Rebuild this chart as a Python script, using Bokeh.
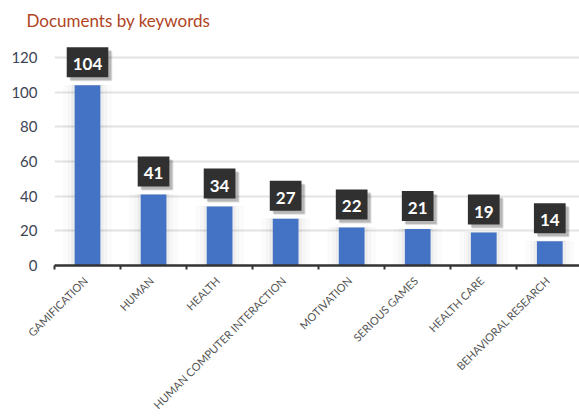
import math
from bokeh.plotting import figure
from bokeh.models import ColumnDataSource, Range1d, FixedTicker, LinearAxis
from bokeh.embed import file_html
from bokeh.resources import INLINE
from bokeh.core.properties import value

keywords = ["GAMIFICATION", "HUMAN", "HEALTH", "HUMAN COMPUTER INTERACTION",
            "MOTIVATION", "SERIOUS GAMES", "HEALTH CARE", "BEHAVIORAL RESEARCH"]
counts = [104, 41, 34, 27, 22, 21, 19, 14]
y_ticks = [0, 20, 40, 60, 80, 100, 120]
title_text = "Documents by keywords"

xs = [i + 0.5 for i in range(len(keywords))]
label_pos = [i + 0.47 for i in range(len(keywords))]
src = ColumnDataSource(dict(x=xs, top=counts, label=[str(c) for c in counts]))

p = figure(width=579, height=418, output_backend="svg", toolbar_location=None,
           x_range=Range1d(0, 7.95), y_range=Range1d(0, 131),
           x_axis_type=None, min_border_left=54, min_border_right=0,
           min_border_top=0, min_border_bottom=0)
p.outline_line_color = None
p.background_fill_color = "white"
p.border_fill_color = "white"

# title
p.title.text = title_text
p.title.text_font = "Lato"
p.title.text_font_size = "17px"
p.title.text_font_style = "normal"
p.title.text_color = "#b0441e"
p.title.offset = -28
p.title.standoff = 15

# x axis
xaxis = LinearAxis(ticker=FixedTicker(ticks=label_pos, minor_ticks=list(range(len(keywords) + 1))))
xaxis.major_label_overrides = {x: k for x, k in zip(label_pos, keywords)}
xaxis.major_label_orientation = math.pi / 4
xaxis.major_label_text_font = "Lato"
xaxis.major_label_text_font_size = "11px"
xaxis.major_label_text_line_height = 0.9
xaxis.major_label_text_color = "#555555"
xaxis.major_label_standoff = 9
xaxis.major_tick_line_color = None
xaxis.major_tick_out = 0
xaxis.major_tick_in = 0
xaxis.minor_tick_line_color = "#333333"
xaxis.minor_tick_line_width = 2
xaxis.minor_tick_in = 0
xaxis.minor_tick_out = 4
xaxis.axis_line_color = "#333333"
xaxis.axis_line_width = 2.5
xaxis.axis_label_standoff = 0
p.add_layout(xaxis, "below")

# y axis
p.yaxis.ticker = FixedTicker(ticks=y_ticks)
p.yaxis.axis_line_color = None
p.yaxis.major_tick_line_color = None
p.yaxis.major_tick_out = 0
p.yaxis.major_tick_in = 0
p.yaxis.minor_tick_line_color = None
p.yaxis.major_label_text_font = "Lato"
p.yaxis.major_label_text_font_size = "15px"
p.yaxis.major_label_text_color = "#3d4555"
p.yaxis.major_label_standoff = 17

p.xgrid.visible = False
p.ygrid.grid_line_color = "#e3e3e3"
p.ygrid.grid_line_width = 2

# soft bar shadows
for w, a in [(0.72, 0.015), (0.58, 0.02), (0.47, 0.03)]:
    p.vbar(x="x", top="top", width=w, color="black", alpha=a, source=src)
p.vbar(x="x", top="top", width=0.39, color="#4472c4", line_color=None, source=src)

pad = dict(left=6, right=6, top=11, bottom=7)
# label shadows
for off, a in [(4, 0.12), (3, 0.18)]:
    p.text(x="x", y="top", text="label", source=src,
           text_font=value("Lato"), text_font_size="17px", text_font_style="bold",
           text_align="center", text_baseline="bottom", text_alpha=0,
           x_offset=off, y_offset=-8 + off,
           background_fill_color="black", background_fill_alpha=a,
           padding=pad)
p.text(x="x", y="top", text="label", source=src,
       text_font=value("Lato"), text_font_size="17px", text_font_style="bold",
       text_align="center", text_baseline="bottom", text_color="white",
       x_offset=0, y_offset=-8,
       background_fill_color="#303030",
       padding=pad)

open("out.html", "w").write(file_html(p, INLINE))
